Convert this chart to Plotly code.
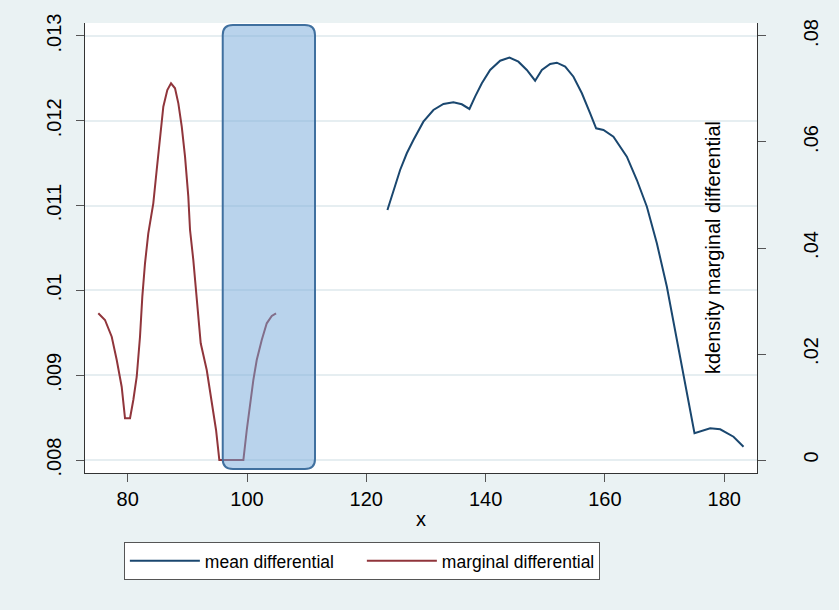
import plotly.graph_objects as go

# ---- data ----
marginal_x = [75.07, 76.19, 77.32, 78.16, 78.99, 79.55, 80.39, 80.94, 81.51, 82.06, 82.45, 82.90,
              83.45, 84.29, 84.86, 85.42, 85.97, 86.64, 87.26, 87.93, 88.49, 89.06, 89.61, 90.16,
              90.45, 91.00, 91.57, 92.24, 93.25, 94.09, 94.81, 95.36, 99.39, 99.96, 100.51, 101.06,
              101.63, 102.47, 103.31, 104.15, 104.87]
marginal_y = [.00973, .009651, .009454, .009179, .008864, .008492, .008492, .008708, .008982, .009454,
              .009926, .01032, .010673, .011027, .01142, .011813, .012166, .012363, .012442, .012383,
              .012206, .01193, .011577, .011105, .010712, .010358, .009926, .009376, .009061, .008669,
              .008354, .008, .008, .008354, .008669, .008943, .009179, .009415, .009612, .009698, .00973]

mean_x = [123.54, 124.54, 125.67, 126.79, 127.90, 129.57, 131.25, 132.93, 134.60, 136.01, 137.29,
          138.24, 139.37, 140.76, 142.44, 144.00, 145.50, 146.91, 148.30, 149.43, 150.82, 151.94,
          153.34, 154.73, 156.14, 157.53, 158.53, 159.76, 161.43, 163.68, 165.36, 167.04, 168.71,
          170.39, 172.07, 173.46, 175.02, 177.65, 179.33, 181.56, 183.24]
mean_y = [.04717, .05094, .05472, .05787, .06038, .06383, .06604, .06717, .06749, .06711, .06623,
          .06855, .07107, .07358, .07534, .07591, .07515, .07358, .07157, .07358, .07472, .07496,
          .07421, .07232, .06919, .06541, .06258, .06226, .06100, .05723, .05283, .04779, .04089,
          .03270, .02264, .01447, .00504, .00598, .00579, .00440, .00251]

x_ticks = [80, 100, 120, 140, 160, 180]
y1_ticks = [.008, .009, .01, .011, .012, .013]
y1_labels = [".008", ".009", ".01", ".011", ".012", ".013"]
y2_ticks = [0, .02, .04, .06, .08]
y2_labels = ["0", ".02", ".04", ".06", ".08"]

# highlighted band (x range and left-axis extent)
band_x = [95.93, 111.4]
band_y = [.007894, .01313]

BLUE = "#1A476F"
RED = "#90353B"
BG = "#EAF2F3"
FONT = "Liberation Sans, Arial, sans-serif"

fig = go.Figure()
fig.add_trace(go.Scatter(x=mean_x, y=mean_y, mode="lines", name="mean differential",
                         line=dict(color=BLUE, width=2), yaxis="y2"))
fig.add_trace(go.Scatter(x=marginal_x, y=marginal_y, mode="lines", name="marginal differential",
                         line=dict(color=RED, width=2), yaxis="y"))

# rounded rectangle path
rx, ry = 1.7, 0.000118
x0, x1 = band_x
y0, y1 = band_y
path = (f"M{x0+rx},{y1} L{x1-rx},{y1} Q{x1},{y1} {x1},{y1-ry} "
        f"L{x1},{y0+ry} Q{x1},{y0} {x1-rx},{y0} L{x0+rx},{y0} Q{x0},{y0} {x0},{y0+ry} "
        f"L{x0},{y1-ry} Q{x0},{y1} {x0+rx},{y1} Z")
fig.add_shape(type="path", path=path, xref="x", yref="y",
              fillcolor="rgba(116,167,218,0.5)", line=dict(color="#40709F", width=2), layer="above")

fig.add_annotation(text="kdensity marginal differential", textangle=-90, showarrow=False,
                   xref="paper", yref="paper", x=0.9345, y=0.502,
                   xanchor="center", yanchor="middle",
                   font=dict(family=FONT, size=20, color="black"))

fig.update_layout(
    width=839, height=610,
    paper_bgcolor=BG, plot_bgcolor="white",
    margin=dict(l=85, r=82, t=23, b=137, autoexpand=False),
    font=dict(family=FONT, size=20, color="black"),
    showlegend=True,
    legend=dict(orientation="h", x=0.412, y=-0.153, xanchor="center", yanchor="top",
                bgcolor="white", bordercolor="#555555", borderwidth=1,
                font=dict(family=FONT, size=17.5, color="black"),
                entrywidth=152, itemwidth=70),
    xaxis=dict(range=[72.84, 185.5], tickvals=x_ticks, showgrid=False, zeroline=False,
               showline=True, linecolor="#333333", linewidth=1, ticks="outside", ticklen=8,
               tickcolor="#555555", automargin=False,
               title=dict(text="x", standoff=2, font=dict(size=20))),
    yaxis=dict(range=[.007847, .013153], tickvals=y1_ticks, ticktext=y1_labels, tickangle=-90,
               showgrid=True, gridcolor="#E6EEF1", gridwidth=1.5, zeroline=False,
               showline=True, linecolor="#333333", linewidth=1, ticks="outside", ticklen=8,
               tickcolor="#555555", automargin=False, ticklabelstandoff=7),
    yaxis2=dict(range=[-0.00245, 0.08245], tickvals=y2_ticks, ticktext=y2_labels, tickangle=-90,
                overlaying="y", side="right", showgrid=False, zeroline=False,
                showline=True, linecolor="#333333", linewidth=1, ticks="outside", ticklen=8,
                tickcolor="#555555", automargin=False, ticklabelstandoff=28),
)

fig.write_html("out.html", config={"displayModeBar": False},
               post_script=f"document.body.style.margin='0';document.body.style.background='{BG}';")
